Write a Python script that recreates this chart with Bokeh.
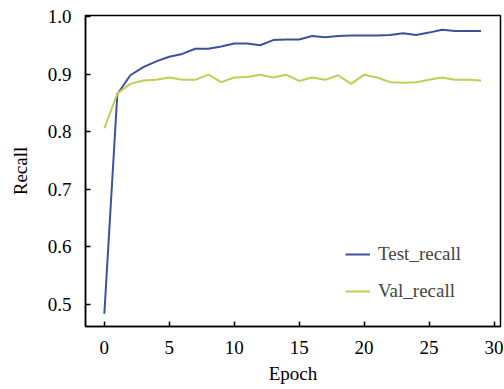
from bokeh.plotting import figure
from bokeh.models import FixedTicker, NumeralTickFormatter, Legend, LegendItem, Range1d
from bokeh.embed import file_html
from bokeh.resources import INLINE

epochs = list(range(30))
test_recall = [0.484, 0.865, 0.898, 0.912, 0.922, 0.930, 0.935, 0.944, 0.944, 0.948,
               0.953, 0.953, 0.950, 0.959, 0.960, 0.960, 0.966, 0.964, 0.966, 0.967,
               0.967, 0.967, 0.968, 0.971, 0.968, 0.972, 0.977, 0.975, 0.975, 0.975]
val_recall = [0.806, 0.866, 0.883, 0.889, 0.890, 0.894, 0.890, 0.890, 0.899, 0.886,
              0.894, 0.895, 0.899, 0.894, 0.899, 0.888, 0.894, 0.890, 0.898, 0.883,
              0.899, 0.894, 0.886, 0.885, 0.886, 0.890, 0.894, 0.890, 0.890, 0.889]
x_ticks = [0, 5, 10, 15, 20, 25, 30]
y_ticks = [0.5, 0.6, 0.7, 0.8, 0.9, 1.0]

FONT = "Liberation Serif"
FS = "19px"

p = figure(width=504, height=389, output_backend="svg", toolbar_location=None,
           x_range=Range1d(-1.45, 30.5), y_range=Range1d(0.4618, 1.0017))
p.min_border_left = 85
p.min_border_right = 4
p.min_border_top = 15
p.min_border_bottom = 63
p.background_fill_color = "white"
p.border_fill_color = "white"
p.outline_line_color = "black"
p.outline_line_width = 1.5
p.xgrid.visible = False
p.ygrid.visible = False

r1 = p.line(epochs, test_recall, line_color="#3c529e", line_width=2)
r2 = p.line(epochs, val_recall, line_color="#c5cc55", line_width=2)

for ax in (p.xaxis[0], p.yaxis[0]):
    ax.axis_line_color = "black"
    ax.axis_line_width = 1.5
    ax.major_tick_in = 5
    ax.major_tick_out = 0
    ax.minor_tick_line_color = None
    ax.major_tick_line_color = "black"
    ax.major_tick_line_width = 1.5
    ax.major_label_text_font = FONT
    ax.major_label_text_font_size = FS
    ax.major_label_text_color = "black"
    ax.axis_label_text_font = FONT
    ax.axis_label_text_font_size = FS
    ax.axis_label_text_font_style = "normal"
    ax.axis_label_text_color = "black"

p.xaxis.major_label_standoff = 14
p.yaxis.major_label_standoff = 14
p.xaxis.ticker = FixedTicker(ticks=x_ticks)
p.yaxis.ticker = FixedTicker(ticks=y_ticks)
p.yaxis.formatter = NumeralTickFormatter(format="0.0")
p.xaxis.axis_label = "Epoch"
p.yaxis.axis_label = "Recall"
p.xaxis.axis_label_standoff = 6
p.yaxis.axis_label_standoff = 14

legend = Legend(items=[LegendItem(label="Test_recall", renderers=[r1]),
                       LegendItem(label="Val_recall", renderers=[r2])],
                location=(260, 24))
legend.border_line_color = None
legend.background_fill_alpha = 0
legend.padding = 0
legend.margin = 0
legend.spacing = 15
legend.glyph_width = 25
legend.label_standoff = 8
legend.label_text_font = FONT
legend.label_text_font_size = FS
p.add_layout(legend)

open("out.html", "w").write(file_html(p, INLINE))
